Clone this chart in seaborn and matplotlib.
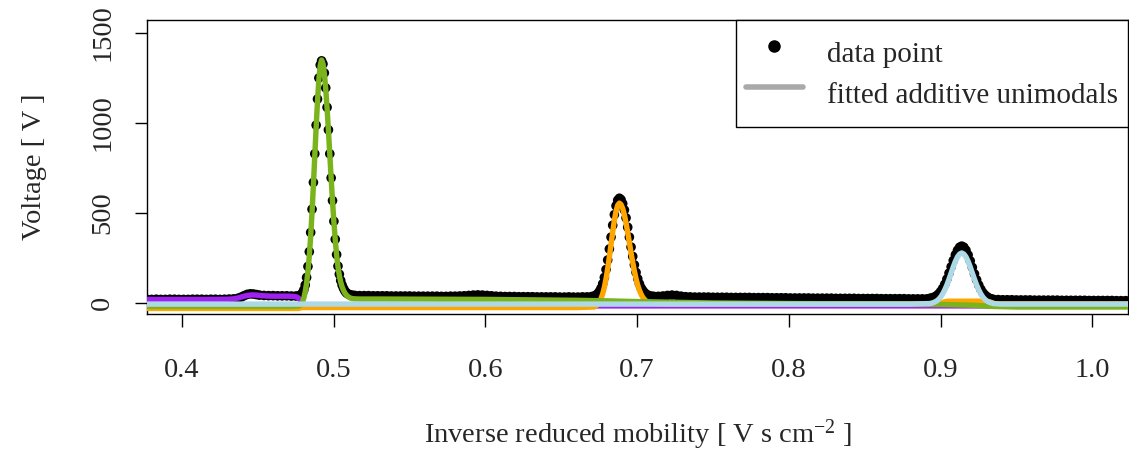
import matplotlib
matplotlib.use("Agg")
import matplotlib.pyplot as plt
import seaborn as sns
import pandas as pd
from matplotlib.lines import Line2D

# ---------------- data ----------------
data_x = [0.377, 0.380, 0.383, 0.386, 0.389, 0.392, 0.395, 0.398, 0.401, 0.404,
          0.407, 0.410, 0.413, 0.416, 0.419, 0.422, 0.425, 0.428, 0.431, 0.434,
          0.437, 0.439, 0.441, 0.443, 0.445, 0.447, 0.449, 0.451, 0.454, 0.457,
          0.460, 0.463, 0.466, 0.469, 0.472, 0.475, 0.477,
          0.4785, 0.4794, 0.4803, 0.4812, 0.4821, 0.4830, 0.4839, 0.4848, 0.4857, 0.4866,
          0.4875, 0.4884, 0.4893, 0.4902, 0.4911, 0.4920, 0.4929, 0.4938, 0.4947, 0.4956,
          0.4965, 0.4974, 0.4983, 0.4992, 0.5001, 0.5010, 0.5019, 0.5028, 0.5037, 0.5046,
          0.5055, 0.5064, 0.5073, 0.5082, 0.5091, 0.5100, 0.5112, 0.5125, 0.5140, 0.5170,
          0.520, 0.523, 0.526, 0.529, 0.532, 0.535, 0.538, 0.541, 0.544, 0.547,
          0.550, 0.553, 0.556, 0.559, 0.562, 0.565, 0.568, 0.571, 0.574, 0.577,
          0.580, 0.583, 0.586, 0.589, 0.592, 0.595, 0.598, 0.601, 0.604, 0.607,
          0.610, 0.613, 0.616, 0.619, 0.622, 0.625, 0.628, 0.631, 0.634, 0.637,
          0.640, 0.643, 0.646, 0.649, 0.652, 0.655, 0.658, 0.661, 0.664, 0.667, 0.670,
          0.6718, 0.6729, 0.6740, 0.6751, 0.6762, 0.6773, 0.6784, 0.6795, 0.6806, 0.6817,
          0.6828, 0.6839, 0.6850, 0.6861, 0.6872, 0.6883, 0.6894, 0.6905, 0.6916, 0.6927,
          0.6938, 0.6949, 0.6960, 0.6971, 0.6982, 0.6993, 0.7004, 0.7015, 0.7026, 0.7037,
          0.7048, 0.7059, 0.7070, 0.7081, 0.7095, 0.7110, 0.7140, 0.7170, 0.7200, 0.7230,
          0.7260, 0.7290, 0.7320, 0.7350, 0.7380,
          0.741, 0.744, 0.747, 0.750, 0.753, 0.756, 0.759, 0.762, 0.765, 0.768,
          0.771, 0.774, 0.777, 0.780, 0.783, 0.786, 0.789, 0.792, 0.795, 0.798,
          0.801, 0.804, 0.807, 0.810, 0.813, 0.816, 0.819, 0.822, 0.825, 0.828,
          0.831, 0.834, 0.837, 0.840, 0.843, 0.846, 0.849, 0.852, 0.855, 0.858,
          0.861, 0.864, 0.867, 0.870, 0.873, 0.876, 0.879, 0.882, 0.885, 0.888, 0.891,
          0.8930, 0.8944, 0.8958, 0.8972, 0.8986, 0.9000, 0.9014, 0.9028, 0.9042, 0.9056,
          0.9070, 0.9084, 0.9098, 0.9112, 0.9126, 0.9140, 0.9154, 0.9168, 0.9182, 0.9196,
          0.9210, 0.9224, 0.9238, 0.9252, 0.9266, 0.9280, 0.9294, 0.9308, 0.9322, 0.9336, 0.9350,
          0.938, 0.941, 0.944, 0.947, 0.950, 0.953, 0.956, 0.959, 0.962, 0.965,
          0.968, 0.971, 0.974, 0.977, 0.980, 0.983, 0.986, 0.989, 0.992, 0.995,
          0.998, 1.001, 1.004, 1.007, 1.010, 1.013, 1.016, 1.019, 1.022, 1.025]
data_y = [20, 20, 21, 20, 20, 21, 21, 20, 20, 20,
          21, 21, 21, 20, 21, 21, 20, 21, 22, 23,
          27, 33, 41, 48, 51, 50, 47, 44, 42, 41,
          41, 40, 40, 40, 39, 39, 40,
          47, 57, 73, 100, 142, 203, 285, 392, 521, 670,
          829, 988, 1133, 1250, 1322, 1345, 1328, 1278, 1195, 1087,
          962, 829, 695, 569, 454, 354, 269, 205, 160, 125,
          100, 82, 68, 58, 52, 48, 45, 43, 42, 41,
          41, 41, 40, 40, 40, 40, 39, 39, 39, 39,
          39, 38, 38, 38, 38, 38, 38, 37, 37, 38,
          38, 39, 40, 42, 44, 45, 44, 42, 40, 38,
          37, 36, 36, 36, 35, 35, 35, 35, 34, 34,
          34, 34, 34, 33, 33, 34, 33, 33, 34, 34, 36,
          39, 44, 52, 64, 82, 107, 142, 186, 239, 300,
          366, 432, 491, 540, 571, 582, 574, 552, 517, 473,
          421, 366, 311, 259, 212, 170, 135, 107, 85, 70,
          58, 50, 44, 40, 38, 37, 37, 39, 42, 44,
          42, 38, 35, 34, 33,
          33, 33, 33, 32, 32, 32, 32, 31, 31, 31,
          31, 31, 30, 30, 30, 30, 29, 29, 29, 29,
          28, 28, 28, 28, 28, 27, 27, 27, 27, 27,
          26, 26, 26, 26, 26, 25, 25, 25, 25, 25,
          24, 24, 24, 24, 24, 24, 23, 23, 23, 23, 23,
          26, 29, 33, 39, 49, 63, 81, 104, 133, 166,
          201, 236, 268, 293, 310, 316, 310, 293, 267, 234,
          198, 162, 129, 100, 76, 57, 44, 34, 27, 23, 20,
          19, 18, 18, 18, 17, 17, 17, 17, 16, 16,
          16, 16, 16, 16, 15, 15, 15, 15, 15, 15,
          14, 14, 14, 14, 14, 14, 13, 13, 13, 13]

purple_x = [0.377, 0.400, 0.420, 0.430, 0.434, 0.437, 0.440, 0.443, 0.446, 0.449,
            0.452, 0.456, 0.460, 0.465, 0.470, 0.473, 0.4755, 0.4770, 0.4785, 0.4800,
            0.4820, 0.4850, 0.600, 0.800, 1.025]
purple_y = [20, 20, 20, 21, 23, 28, 36, 42, 45, 44,
            41, 39, 38, 38, 38, 37, 34, 26, 10, -5,
            -13, -16, -16, -16, -16]

green_x = [0.377, 0.470, 0.4770,
           0.4785, 0.4794, 0.4803, 0.4812, 0.4821, 0.4830, 0.4839, 0.4848, 0.4857, 0.4866,
           0.4875, 0.4884, 0.4893, 0.4902, 0.4911, 0.4920, 0.4929, 0.4938, 0.4947, 0.4956,
           0.4965, 0.4974, 0.4983, 0.4992, 0.5001, 0.5010, 0.5019, 0.5028, 0.5037, 0.5046,
           0.5055, 0.5064, 0.5073, 0.5082, 0.5091, 0.5100,
           0.5112, 0.5125, 0.5140, 0.5170,
           0.530, 0.600, 0.660, 0.680, 0.700, 0.750, 0.800, 0.850, 0.900, 0.920,
           0.935, 0.950, 1.025]
green_y = [-19, -19, -17,
           -8, 6, 28, 62, 110, 175, 262, 372, 504, 655,
           815, 975, 1122, 1242, 1320, 1350, 1330, 1276, 1192, 1084,
           959, 826, 692, 566, 451, 351, 266, 201, 152, 116,
           90, 71, 56, 46, 38, 32,
           27, 24, 23, 22,
           22, 20, 15, 12, 8, 0, -3, -5, -8, -12,
           -19, -22, -22]

orange_x = [0.377, 0.477, 0.479, 0.660,
            0.6718, 0.6729, 0.6740, 0.6751, 0.6762, 0.6773, 0.6784, 0.6795, 0.6806, 0.6817,
            0.6828, 0.6839, 0.6850, 0.6861, 0.6872, 0.6883, 0.6894, 0.6905, 0.6916, 0.6927,
            0.6938, 0.6949, 0.6960, 0.6971, 0.6982, 0.6993, 0.7004, 0.7015, 0.7026, 0.7037,
            0.7048, 0.7059, 0.7070, 0.7081,
            0.7120, 0.7200, 0.8990, 0.9020, 0.9050, 0.9300, 0.9330, 0.9360, 1.025]
orange_y = [-30, -30, -25, -25,
            -22, -16, -8, 5, 24, 51, 87, 134, 191, 256,
            326, 395, 459, 510, 543, 555, 547, 525, 489, 444,
            391, 335, 278, 225, 177, 134, 99, 71, 49, 32,
            20, 11, 5, 1,
            -3, -5, -5, 5, 10, 10, 5, -5, -5]

blue_x = [0.377, 0.600, 0.880,
          0.8930, 0.8944, 0.8958, 0.8972, 0.8986, 0.9000, 0.9014, 0.9028, 0.9042, 0.9056,
          0.9070, 0.9084, 0.9098, 0.9112, 0.9126, 0.9140, 0.9154, 0.9168, 0.9182, 0.9196,
          0.9210, 0.9224, 0.9238, 0.9252, 0.9266, 0.9280, 0.9294, 0.9308, 0.9322, 0.9336, 0.9350,
          0.940, 1.025]
blue_y = [-6, -6, -6,
          -3, 0, 4, 10, 19, 32, 50, 73, 100, 132,
          166, 200, 231, 256, 272, 278, 272, 256, 231, 200,
          166, 132, 100, 73, 50, 32, 19, 10, 4, 0, -3,
          -6, -6]

x_ticks = [0.4, 0.5, 0.6, 0.7, 0.8, 0.9, 1.0]
x_tick_labels = ["0.4", "0.5", "0.6", "0.7", "0.8", "0.9", "1.0"]
y_ticks = [0, 500, 1000, 1500]
y_tick_labels = ["0", "500", "1000", "1500"]

# ---------------- style ----------------
sns.set_style("white")
plt.rcParams['font.family'] = ['Liberation Serif', 'DejaVu Serif']
plt.rcParams['mathtext.fontset'] = 'custom'
plt.rcParams['mathtext.rm'] = 'Liberation Serif'
plt.rcParams['mathtext.it'] = 'Liberation Serif:italic'
FS = 20.5

W, H = 1129, 451
fig = plt.figure(figsize=(W / 100, H / 100), dpi=100)
ax = fig.add_axes([147 / W, 1 - 314 / H, (1128 - 147) / W, (314 - 20) / H])

df_data = pd.DataFrame({"x": data_x, "y": data_y})
sns.scatterplot(data=df_data, x="x", y="y", ax=ax, color="black", s=48,
                linewidth=0, edgecolor="none", zorder=2, legend=False)

LW = 3.9
curves = [(purple_x, purple_y, "#A020F0", 3),
          (orange_x, orange_y, "#FFA500", 4),
          (green_x, green_y, "#7BB31C", 5),
          (blue_x, blue_y, "#ADD8E6", 6)]
for cx, cy, col, z in curves:
    sns.lineplot(x=cx, y=cy, ax=ax, color=col, lw=LW, sort=False,
                 estimator=None, legend=False, zorder=z)

ax.set_xlim(0.3769, 1.0236)
ax.set_ylim(-61, 1572)
ax.set_xticks(x_ticks)
ax.set_xticklabels(x_tick_labels, fontsize=FS)
ax.set_yticks(y_ticks)
ax.set_yticklabels(y_tick_labels, fontsize=FS, rotation=90, va="center")
ax.tick_params(axis="both", which="major", direction="out", length=9, width=1.0,
               color="black", left=True, bottom=True)
ax.tick_params(axis="x", pad=23)
ax.tick_params(axis="y", pad=14)
for s in ax.spines.values():
    s.set_visible(True)
    s.set_color("black")
    s.set_linewidth(1.0)

ax.set_xlabel("Inverse reduced mobility [ V s cm$^{\\mathregular{\u22122}}$ ]", fontsize=FS, labelpad=24.5)
ax.set_ylabel("Voltage [ V ]", fontsize=FS, labelpad=31)

handles = [Line2D([], [], marker="o", color="black", linestyle="none", markersize=8),
           Line2D([], [], color="#A9A9A9", lw=4)]
leg = ax.legend(handles, ["data point", "fitted additive unimodals"], loc="upper right",
                fontsize=21, frameon=True, fancybox=False, borderaxespad=0,
                borderpad=0.33, handlelength=1.95, handletextpad=0.85, labelspacing=-0.2,
                handleheight=2.1)
leg.get_frame().set_edgecolor("black")
leg.get_frame().set_linewidth(1.0)
leg.get_frame().set_alpha(1)

fig.savefig("out.png", dpi=100)
